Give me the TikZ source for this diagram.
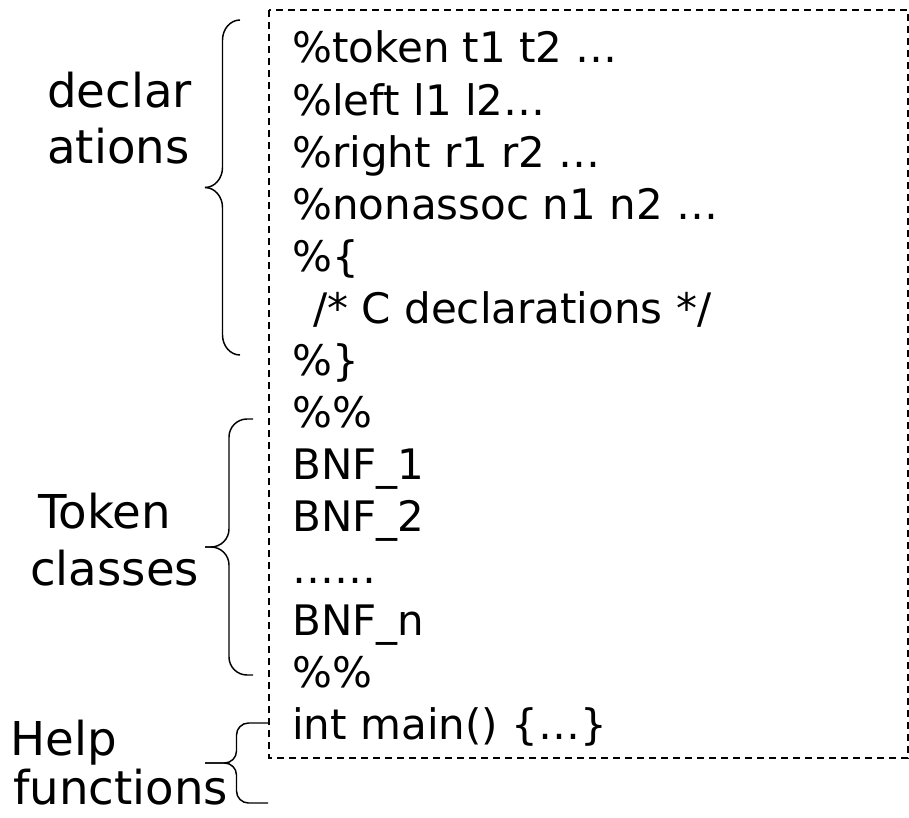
\documentclass[tikz,border=0pt]{standalone}
\usepackage{fontspec}
\setmainfont{DejaVu Sans}

% left curly brace: x of ends, x of tip, top y, bottom y, curl size
\newcommand{\leftcurl}[5]{%
  \pgfmathsetmacro\curlmid{(#1+#2)/2}%
  \pgfmathsetmacro\curlym{(#3+#4)/2}%
  \pgfmathsetmacro\curlrx{min(#5,(#1-#2)/2)}%
  \draw[curl] (#1,#3) -- ({\curlmid+\curlrx},#3)
    .. controls ({\curlmid+0.45*\curlrx},#3) and (\curlmid,{#3+0.45*#5}) .. (\curlmid,{#3+#5})
    -- (\curlmid,{\curlym-#5})
    .. controls (\curlmid,{\curlym-0.45*#5}) and ({\curlmid-0.45*\curlrx},\curlym) .. ({\curlmid-\curlrx},\curlym)
    -- (#2,\curlym);
  \draw[curl] (#1,#4) -- ({\curlmid+\curlrx},#4)
    .. controls ({\curlmid+0.45*\curlrx},#4) and (\curlmid,{#4-0.45*#5}) .. (\curlmid,{#4-#5})
    -- (\curlmid,{\curlym+#5})
    .. controls (\curlmid,{\curlym+0.45*#5}) and ({\curlmid-0.45*\curlrx},\curlym) .. ({\curlmid-\curlrx},\curlym)
    -- (#2,\curlym);
}

\begin{document}
\begin{tikzpicture}[x = 0.75pt, y = -0.75pt,
    code/.style = {anchor = base west, inner sep = 0pt, font = \fontsize{31.5}{38}\selectfont},
    lab/.style = {anchor = base west, inner sep = 0pt, font = \fontsize{35}{42}\selectfont},
    curl/.style = {line width = 1.1pt},
    frame/.style = {line width = 1pt, dash pattern = on 5.5pt off 3.5pt}]
    \useasboundingbox (0, 0) rectangle (909, 817);

    \draw[frame] (269, 10) rectangle (908, 758);

    \node[code] (ltoken)    at (292, 63)  {\%token t1 t2 …};
    \node[code] (lleft)     at (292, 115) {\%left l1 l2…};
    \node[code] (lright)    at (292, 167) {\%right r1 r2 …};
    \node[code] (lnonassoc) at (292, 219) {\%nonassoc n1 n2 …};
    \node[code] (lopen)     at (292, 271) {\%\{};
    \node[code] (lcdecl)    at (313, 323) {/* C declarations */};
    \node[code] (lclose)    at (292, 375) {\%\}};
    \node[code] (lsepa)     at (292, 427) {\%\%};
    \node[code] (lbnfa)     at (292, 479) {BNF\_1};
    \node[code] (lbnfb)     at (292, 531) {BNF\_2};
    \node[code] (ldots)     at (292, 583) {……};
    \node[code] (lbnfn)     at (292, 635) {BNF\_n};
    \node[code] (lsepb)     at (292, 687) {\%\%};
    \node[code] (lmain)     at (292, 739) {int main() \{…\}};

    \node[lab] (decla) at (47, 108) {declar};
    \node[lab] (declb) at (47, 163) {ations};
    \node[lab] (toka)  at (38, 528) {Token};
    \node[lab] (tokb)  at (30, 585) {classes};
    \node[lab] (helpa) at (10, 755) {Help};
    \node[lab] (helpb) at (13, 804) {functions};

    \leftcurl{240}{205}{20}{355}{20}
    \leftcurl{253}{205}{419}{675}{18}
    \leftcurl{268}{205}{723}{803}{12}
\end{tikzpicture}
\end{document}
